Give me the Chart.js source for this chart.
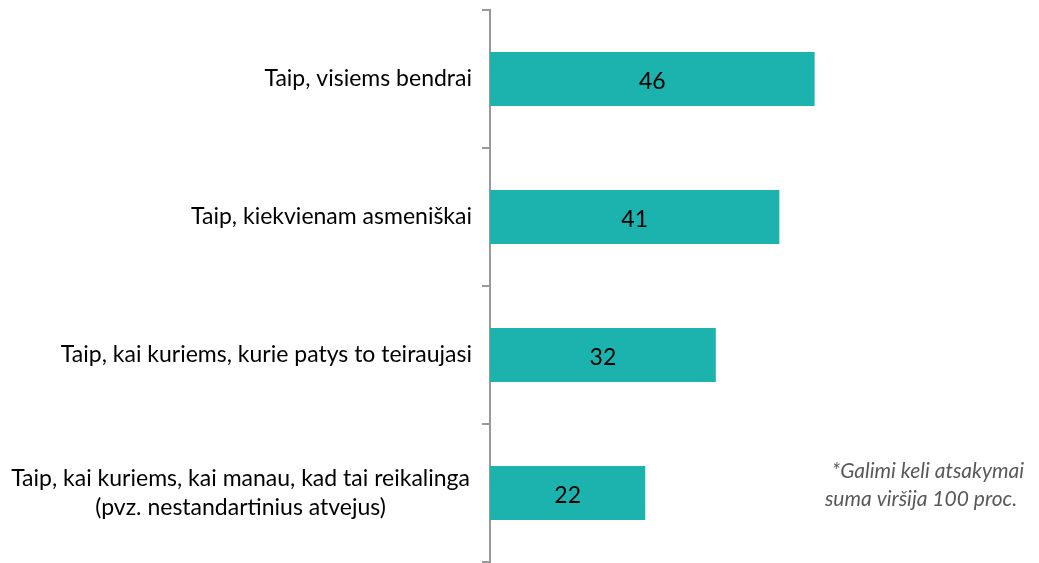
<!DOCTYPE html>
<html>
<head>
<meta charset="utf-8">
<script src="https://cdn.jsdelivr.net/npm/chart.js@4"></script>
<style>
  html, body { margin: 0; padding: 0; background: #fff; }
  #wrap { width: 1039px; height: 563px; }
</style>
</head>
<body>
<div id="wrap"><canvas id="answersChart"></canvas></div>
<script>
let categories = [
  "Taip, visiems bendrai",
  "Taip, kiekvienam asmeniškai",
  "Taip, kai kuriems, kurie patys to teiraujasi",
  ["Taip, kai kuriems, kai manau, kad tai reikalinga", "(pvz. nestandartinius atvejus)"]
];
let values = [46, 41, 32, 22];
let footnote = ["*Galimi keli atsakymai", "suma viršija 100 proc."];

let labelFont = "23px Lato";

// values written in the middle of each bar
let barLabels = {
  id: "barLabels",
  afterDatasetsDraw(chart) {
    let c = chart.ctx;
    let meta = chart.getDatasetMeta(0);
    c.save();
    c.font = "23px Lato";
    c.fillStyle = "#000";
    c.textAlign = "center";
    c.textBaseline = "middle";
    meta.data.forEach((bar, i) => {
      c.fillText(values[i], (bar.x + bar.base) / 2, bar.y + 3);
    });
    c.restore();
  }
};

// two-line category labels are centred line by line, as in the original
let multiLineLabels = {
  id: "multiLineLabels",
  afterDraw(chart) {
    let c = chart.ctx;
    let y = chart.scales.y;
    c.save();
    c.font = labelFont;
    c.fillStyle = "#000";
    c.textAlign = "center";
    c.textBaseline = "middle";
    categories.forEach((lab, i) => {
      if (!Array.isArray(lab)) return;
      let widest = Math.max(...lab.map(s => c.measureText(s).width));
      let cx = 470 - widest / 2;
      let cy = y.getPixelForValue(i);
      let lh = 29;
      lab.forEach((s, k) => {
        c.fillText(s, cx, cy + (k - (lab.length - 1) / 2) * lh);
      });
    });
    c.restore();
  }
};

let noteText = {
  id: "noteText",
  afterDraw(chart) {
    let c = chart.ctx;
    c.save();
    c.font = "italic 21px Lato";
    c.fillStyle = "#595959";
    c.textAlign = "center";
    c.textBaseline = "middle";
    c.fillText(footnote[0], 928, 471);
    c.fillText(footnote[1], 921, 499);
    c.restore();
  }
};

let ctx = document.getElementById("answersChart").getContext("2d");
let chart = new Chart(ctx, {
  type: "bar",
  data: {
    labels: categories,
    datasets: [{
      data: values,
      backgroundColor: "#1cb2ae",
      borderWidth: 0,
      categoryPercentage: 1,
      barPercentage: 0.39
    }]
  },
  options: {
    indexAxis: "y",
    responsive: true,
    maintainAspectRatio: false,
    animation: false,
    layout: { padding: { top: 10, bottom: 1, right: 55, left: 0 } },
    plugins: { legend: { display: false }, tooltip: { enabled: false } },
    scales: {
      x: { display: false, min: 0, max: 70 },
      y: {
        afterFit(scale) {
          scale.width = 490;
          scale.paddingTop = 0;
          scale.paddingBottom = 0;
        },
        border: { color: "#999", width: 2 },
        grid: { offset: true, drawOnChartArea: false, tickLength: 8, color: "#999", lineWidth: 2 },
        ticks: {
          color: "#000",
          font: { family: "Lato", size: 23 },
          padding: 10,
          // multi-line labels are drawn by the plugin above
          callback(value) {
            let lab = categories[value];
            return Array.isArray(lab) ? "" : lab;
          }
        }
      }
    }
  },
  plugins: [barLabels, multiLineLabels, noteText]
});
</script>
</body>
</html>
